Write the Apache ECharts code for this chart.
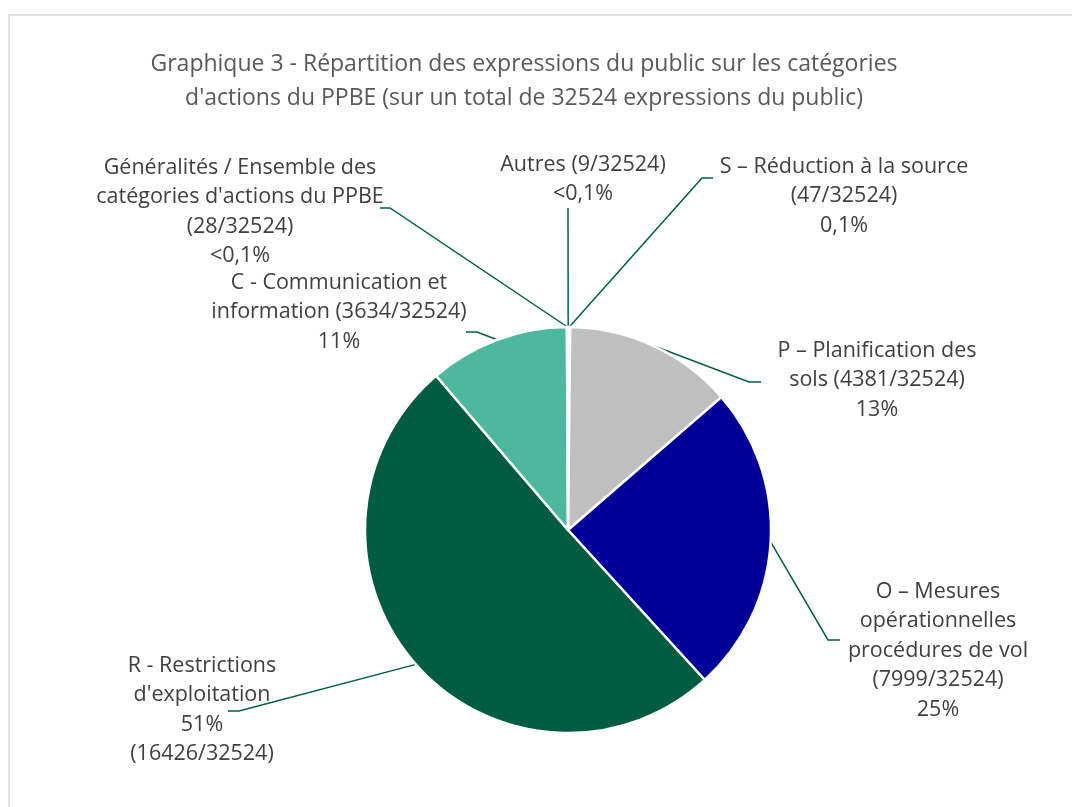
<!DOCTYPE html>
<html>
<head>
<meta charset="utf-8">
<script src="https://cdn.jsdelivr.net/npm/echarts@6/dist/echarts.min.js"></script>
<style>
  html, body { margin: 0; padding: 0; background: #ffffff; }
  #chart { width: 1072px; height: 807px; }
</style>
</head>
<body>
<div id="chart"></div>
<script>
// Categories, clockwise from 12 o'clock
const categories = [
  'Autres',
  'S – Réduction à la source',
  'P – Planification des',
  'O – Mesures',
  'R - Restrictions',
  'C - Communication et',
  'Généralités / Ensemble des'
];
// Number of public expressions per category
const values = [9, 47, 4381, 7999, 16426, 3634, 28];
const total = 32524;
// Label wording; {v} = count, {t} = total, {p} = share
const labelTemplates = [
  'Autres ({v}/{t})\n{p}',
  'S – Réduction à la source\n({v}/{t})\n{p}',
  'P – Planification des\nsols ({v}/{t})\n{p}',
  'O – Mesures\nopérationnelles\nprocédures de vol\n({v}/{t})\n{p}',
  'R - Restrictions\nd\'exploitation\n{p}\n({v}/{t})',
  'C - Communication et\ninformation ({v}/{t})\n{p}',
  'Généralités / Ensemble des\ncatégories d\'actions du PPBE\n({v}/{t})\n{p}'
];
const colors = ['#BFBFBF', '#BFBFBF', '#BFBFBF', '#000099', '#005C40', '#4DB89E', '#4DB89E'];
const titleText = 'Graphique 3 - Répartition des expressions du public sur les catégories\nd\'actions du PPBE (sur un total de 32524 expressions du public)';

// Label placement: text anchor (centre x, top y) and leader elbow/end points
const labelLayoutSpec = [
  { x: 583, y: 150, line: [[568, 208]] },
  { x: 844, y: 152, line: [[702, 178], [713, 178]] },
  { x: 877, y: 336, line: [[749, 382], [761, 382]] },
  { x: 938, y: 577, line: [[828, 640], [840, 640]] },
  { x: 202, y: 651, line: [[239, 711], [228, 711]] },
  { x: 339, y: 268, line: [[477, 332], [466, 332]] },
  { x: 240, y: 153, line: [[390, 208], [380, 208]] }
];

const FONT = '"Open Sans", sans-serif';
const CX = 568, CY = 530, R = 203;

function fmtShare(v) {
  const p = v / total * 100;
  if (p < 0.1) return '<0,1%';
  if (p < 1) return p.toFixed(1).replace('.', ',') + '%';
  return Math.round(p) + '%';
}

// Point on the rim at the middle of each slice (used if the library gives none)
function rimPoint(i) {
  let before = 0;
  for (let k = 0; k < i; k++) before += values[k];
  const mid = (before + values[i] / 2) / total * 2 * Math.PI;
  return [CX + R * Math.sin(mid), CY - R * Math.cos(mid)];
}

const chart = echarts.init(document.getElementById('chart'), null, { renderer: 'canvas' });

chart.setOption({
  animation: false,
  backgroundColor: '#ffffff',
  graphic: [
    {
      type: 'rect',
      shape: { x: 9, y: 15, width: 1200, height: 900 },
      style: { fill: 'none', stroke: '#D9D9D9', lineWidth: 1.5 },
      silent: true
    },
    {
      type: 'text',
      style: {
        text: titleText,
        x: 524, y: 47,
        align: 'center', verticalAlign: 'top',
        font: '23px ' + FONT,
        lineHeight: 34,
        fill: '#595959'
      }
    }
  ],
  series: [{
    type: 'pie',
    center: [CX, CY],
    radius: R,
    startAngle: 90,
    clockwise: true,
    avoidLabelOverlap: false,
    minShowLabelAngle: 0,
    itemStyle: { borderColor: '#ffffff', borderWidth: 2.5 },
    data: categories.map((name, i) => ({
      name: name,
      value: values[i],
      itemStyle: { color: colors[i] }
    })),
    label: {
      show: true,
      position: 'outside',
      formatter: p => labelTemplates[p.dataIndex]
        .replace('{v}', values[p.dataIndex])
        .replace('{t}', total)
        .replace('{p}', fmtShare(values[p.dataIndex])),
      color: '#404040',
      fontFamily: FONT,
      fontSize: 21.5,
      lineHeight: 29.5,
      align: 'center'
    },
    labelLine: {
      show: true,
      length: 10,
      length2: 10,
      lineStyle: { color: '#00603F', width: 1.5 }
    },
    labelLayout: function (params) {
      const i = params.dataIndex;
      const spec = labelLayoutSpec[i];
      const start = (params.labelLinePoints && params.labelLinePoints[0]) || rimPoint(i);
      return {
        x: spec.x,
        y: spec.y,
        align: 'center',
        verticalAlign: 'top',
        labelLinePoints: [start].concat(spec.line)
      };
    },
    emphasis: { disabled: true }
  }]
});
</script>
</body>
</html>
